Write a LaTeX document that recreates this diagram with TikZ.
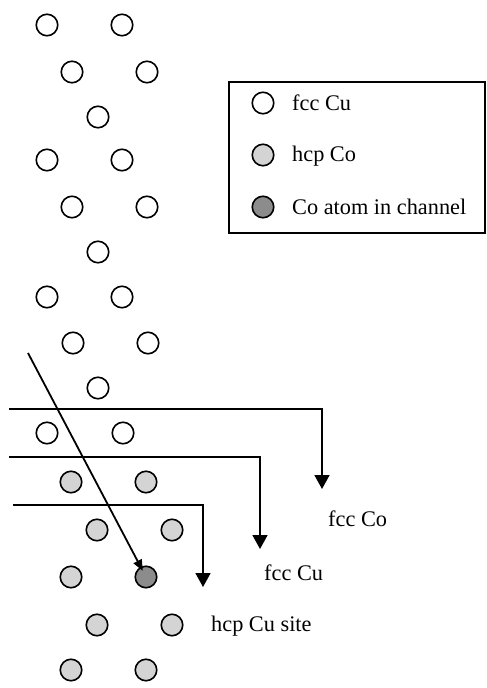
\documentclass[tikz,border=0pt]{standalone}
\usepackage{fontspec}
\setmainfont{Liberation Serif}
\usetikzlibrary{arrows.meta}
\definecolor{lightfill}{gray}{0.83}
\definecolor{darkfill}{gray}{0.55}
\begin{document}
\begin{tikzpicture}[x=1pt,y=-1pt,
  atom/.style={circle,draw,line width=1.6pt,minimum size=21.5pt,inner sep=0pt},
  cu/.style={atom,fill=white},
  co/.style={atom,fill=lightfill},
  ch/.style={atom,fill=darkfill},
  lbl/.style={font=\fontsize{22.3}{26}\selectfont,anchor=base west,inner sep=0pt},
  conn/.style={line width=1.8pt},
  bigtip/.style={-{Triangle[width=15pt,length=14pt]}},
  smalltip/.style={-{Triangle[width=9pt,length=11pt]}},
]
\useasboundingbox (0,0) rectangle (487,688);
% fcc Cu atoms
\node[cu] (a1) at (47,25) {};
\node[cu] (a2) at (122,25) {};
\node[cu] (a3) at (72,72) {};
\node[cu] (a4) at (147,72) {};
\node[cu] (a5) at (98,117) {};
\node[cu] (a6) at (47,160) {};
\node[cu] (a7) at (122,160) {};
\node[cu] (a8) at (72,207) {};
\node[cu] (a9) at (147,207) {};
\node[cu] (a10) at (98,252) {};
\node[cu] (a11) at (47,297) {};
\node[cu] (a12) at (122,297) {};
\node[cu] (a13) at (73,343) {};
\node[cu] (a14) at (148,343) {};
\node[cu] (a15) at (98,388) {};
\node[cu] (a16) at (47,433) {};
\node[cu] (a17) at (123,433) {};
% hcp Co atoms
\node[co] (b1) at (71,482) {};
\node[co] (b2) at (146,482) {};
\node[co] (b3) at (97,530) {};
\node[co] (b4) at (172,530) {};
\node[co] (b5) at (71,577) {};
\node[ch] (chan) at (146,577) {};
\node[co] (b6) at (97,625) {};
\node[co] (b7) at (172,625) {};
\node[co] (b8) at (71,670) {};
\node[co] (b9) at (146,670) {};
% legend
\node[draw,line width=1.6pt,minimum width=256pt,minimum height=151pt,inner sep=0pt] (legend) at (357,157.5) {};
\node[cu] (l1) at (263,103) {};
\node[co] (l2) at (263,155) {};
\node[ch] (l3) at (263,207) {};
\node[lbl] (t1) at (292,110) {fcc Cu};
\node[lbl] (t2) at (292,161) {hcp Co};
\node[lbl] (t3) at (292,214) {Co atom in channel};
% layer arrows
\coordinate (s1) at (9,409);
\coordinate (e1) at (322,489);
\coordinate (s2) at (9,457);
\coordinate (e2) at (260,549);
\coordinate (s3) at (13,505);
\coordinate (e3) at (203,587);
\draw[conn,bigtip] (s1) -| (e1);
\draw[conn,bigtip] (s2) -| (e2);
\draw[conn,bigtip] (s3) -| (e3);
% channel arrow
\coordinate (d0) at (28,353);
\draw[conn,smalltip,shorten >=7pt] (d0) -- (chan.center);
% labels
\node[lbl] (fco) at (328,526) {fcc Co};
\node[lbl] (fcu) at (264,580) {fcc Cu};
\node[lbl] (hcu) at (211,631) {hcp Cu site};
\end{tikzpicture}
\end{document}
